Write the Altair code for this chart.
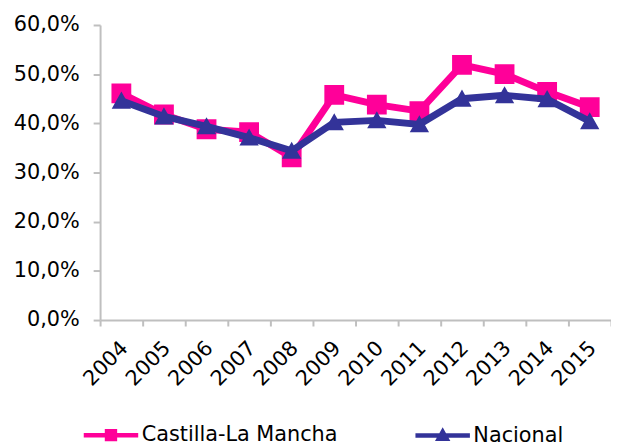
import altair as alt
import pandas as pd

years = [str(y) for y in range(2004, 2016)]
clm = [0.461, 0.418, 0.388, 0.382, 0.331, 0.458, 0.438, 0.425, 0.519, 0.500, 0.464, 0.433]
nac = [0.446, 0.414, 0.394, 0.371, 0.344, 0.402, 0.406, 0.398, 0.450, 0.457, 0.449, 0.404]
series = ["Castilla-La Mancha", "Nacional"]
colors = ["#FF0099", "#333399"]
y_ticks = [0, 0.1, 0.2, 0.3, 0.4, 0.5, 0.6]
title_text = ["NACIONAL"]

rows = []
for s, vals in zip(series, [clm, nac]):
    for yr, v in zip(years, vals):
        rows.append({"year": yr, "serie": s, "value": v})
df = pd.DataFrame(rows)

FONT = "DejaVu Sans"
AX = "#BFBFBF"

sq = "M-5.5,0H5.5M-0.8,-0.8H0.8V0.8H-0.8Z"
tri = "M-5.5,0H5.5M0,-0.74L0.78,0.64L-0.78,0.64Z"

x_enc = alt.X(
    "year:N",
    sort=years,
    scale=alt.Scale(paddingInner=0, paddingOuter=0),
    axis=alt.Axis(
        title=None, tickBand="extent", labelAngle=-45, labelAlign="right",
        labelBaseline="middle", labelPadding=19, labelOffset=3, tickSize=6,
        domainColor=AX, tickColor=AX, domainWidth=2, tickWidth=2,
        labelFont=FONT, labelFontSize=21, labelColor="black", grid=False,
    ),
)
y_enc = alt.Y(
    "value:Q",
    scale=alt.Scale(domain=[0, 0.6]),
    axis=alt.Axis(
        title=None, values=y_ticks, grid=False, tickSize=7, labelPadding=14,
        domainColor=AX, tickColor=AX, domainWidth=2, tickWidth=2,
        labelFont=FONT, labelFontSize=21, labelColor="black",
        labelExpr="replace(format(datum.value, '.1%'), '.', ',')",
    ),
)

cscale = alt.Scale(domain=series, range=colors)
shscale = alt.Scale(domain=series, range=[sq, tri])
legend = alt.Legend(
    title=None, orient="none", legendX=0.5, legendY=403.5, direction="horizontal",
    columnPadding=69, labelFont=FONT, labelFontSize=21, labelLimit=400,
    labelColor="black", symbolSize=100, symbolStrokeWidth=4.5, labelOffset=20.5,
)

layers = []
for s in series:
    base = alt.Chart(df).transform_filter(alt.datum.serie == s).encode(
        x=x_enc, y=y_enc,
        color=alt.Color("serie:N", scale=cscale, legend=legend),
    )
    line = base.mark_line(strokeWidth=7)
    pts = base.mark_point(filled=True, size=625, opacity=1, strokeWidth=0).encode(
        shape=alt.Shape("serie:N", scale=shscale, legend=legend),
    )
    layers += [line, pts]

title = alt.Chart(pd.DataFrame({"t": title_text})).mark_text(
    font=FONT, fontSize=20, color="#00A8F0", baseline="alphabetic", align="center"
).encode(text="t:N", x=alt.value(219), y=alt.value(-19))

chart = alt.layer(*layers, title).properties(
    width=516, height=298,
    autosize=alt.AutoSizeParams(type="none"),
    padding={"left": 93, "top": 15, "right": 0, "bottom": 122},
).configure_view(stroke=None)

chart.save("out.html", embed_options={"renderer": "svg", "actions": False})
